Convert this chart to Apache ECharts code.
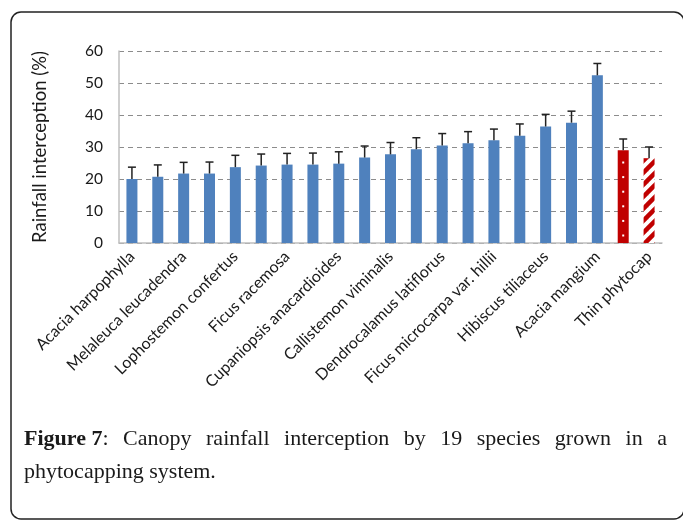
<!DOCTYPE html>
<html><head><meta charset="utf-8">
<script src="https://cdn.jsdelivr.net/npm/echarts@6/dist/echarts.min.js"></script>
<style>html,body{margin:0;padding:0;background:#fff}#c{width:683px;height:520px}</style>
</head><body><div id="c"></div>
<script>
var categories = ["Acacia harpophylla","Eucalyptus tereticornis","Melaleuca leucadendra","Casuarina cunninghamiana","Lophostemon confertus","Corymbia citriodora","Ficus racemosa","Eucalyptus camaldulensis","Cupaniopsis anacardioides","Melaleuca quinquenervia","Callistemon viminalis","Acacia salicina","Dendrocalamus latiflorus","Eucalyptus crebra","Ficus microcarpa var. hillii","Casuarina glauca","Hibiscus tiliaceus","Eucalyptus populnea","Acacia mangium","Thick phytocap","Thin phytocap"];
var interception = [20.0,20.7,21.7,21.7,23.7,24.2,24.5,24.5,24.8,26.7,27.7,29.3,30.5,31.2,32.1,33.5,36.4,37.6,52.4,29.0,26.5];
var errors = [3.7,3.7,3.5,3.6,3.7,3.6,3.5,3.6,3.7,3.6,3.7,3.6,3.7,3.6,3.5,3.7,3.8,3.6,3.7,3.5,3.5];
var yTicks = [0,10,20,30,40,50,60];
var captionBold = "Figure 7";
var captionLine1 = ": Canopy rainfall interception by 19 species grown in a";
var captionLine2 = "phytocapping system.";

var BLUE = '#4F81BD', RED = '#C00000';
var THICK = 19, THIN = 20;

// hatch pattern
var pc = document.createElement('canvas');
var S = 12; pc.width = S; pc.height = S;
var px = pc.getContext('2d');
px.fillStyle = '#fff'; px.fillRect(0,0,S,S);
px.strokeStyle = RED; px.lineWidth = 4.5;
[[0,S,S,0],[-S/2,S/2,S/2,-S/2],[S/2,1.5*S,1.5*S,S/2]].forEach(function(l){px.beginPath();px.moveTo(l[0],l[1]);px.lineTo(l[2],l[3]);px.stroke();});

var barData = interception.map(function(v,i){
  if (i === THICK) return {value:v, itemStyle:{color:RED}};
  if (i === THIN) return {value:v, itemStyle:{color:{image:pc, repeat:'repeat'}}};
  return {value:v, itemStyle:{color:BLUE}};
});
var errData = interception.map(function(v,i){return [i, v, errors[i]];});

// caption justification
var serif = '"Liberation Serif", "DejaVu Serif", serif';
var capSize = 22;
var mc = document.createElement('canvas').getContext('2d');
function w(t, bold){ mc.font = (bold?'bold ':'') + capSize + 'px ' + serif; return mc.measureText(t).width; }
var left = 24, right = 667, top1 = 428.5, top2 = 461.5;
var words = captionLine1.trim().split(' ');
var tokens = [{t: captionBold + words[0], first:true}];
for (var i=1;i<words.length;i++) tokens.push({t:words[i]});
var widths = tokens.map(function(tk){ return tk.first ? (w(captionBold,true)+w(words[0],false)) : w(tk.t,false); });
var total = widths.reduce(function(a,b){return a+b;},0);
var gap = (right-left-total)/(tokens.length-1);
var graphics = [];
var cx = left;
tokens.forEach(function(tk,i){
  if (tk.first) {
    graphics.push({type:'text', left:cx, top:top1, style:{text:captionBold, font:'bold '+capSize+'px '+serif, fill:'#1a1a1a'}});
    graphics.push({type:'text', left:cx+w(captionBold,true), top:top1, style:{text:words[0], font:capSize+'px '+serif, fill:'#1a1a1a'}});
  } else {
    graphics.push({type:'text', left:cx, top:top1, style:{text:tk.t, font:capSize+'px '+serif, fill:'#1a1a1a'}});
  }
  cx += widths[i] + gap;
});
graphics.push({type:'text', left:left, top:top2, style:{text:captionLine2, font:capSize+'px '+serif, fill:'#1a1a1a'}});
graphics.push({type:'rect', shape:{x:11, y:12, width:673, height:507, r:10}, style:{fill:'none', stroke:'#222', lineWidth:1.5}, z:-1});

var chart = echarts.init(document.getElementById('c'), null, {renderer:'canvas'});
var sans = 'Lato, "Open Sans", sans-serif';
chart.setOption({
  animation:false,
  graphic: graphics,
  grid:{left:119, right:21, top:51, bottom:277, containLabel:false},
  xAxis:{type:'category', data:categories,
    axisLine:{lineStyle:{color:'#bfbfbf', width:1.5}}, axisTick:{show:false},
    axisLabel:{interval:1, rotate:45, fontFamily:sans, fontSize:16, color:'#1a1a1a', margin:11}},
  yAxis:{type:'value', min:yTicks[0], max:yTicks[yTicks.length-1], interval:10,
    name:'Rainfall interception (%)', nameLocation:'middle', nameGap:69, nameRotate:90,
    nameTextStyle:{fontFamily:sans, fontSize:18.5, color:'#1a1a1a'},
    axisLine:{show:true, lineStyle:{color:'#bfbfbf', width:1.5}}, axisTick:{show:false},
    axisLabel:{fontFamily:sans, fontSize:15.5, color:'#1a1a1a', margin:16},
    splitLine:{lineStyle:{color:'#8c8c8c', type:[5,4], width:1}}},
  series:[
    {type:'bar', data:barData, barWidth:11},
    {type:'custom', data:errData, z:5, renderItem:function(params, api){
      var i = api.value(0), v = api.value(1), e = api.value(2);
      var b = api.coord([i, v]), t = api.coord([i, v+e]);
      return {type:'group', children:[
        {type:'line', shape:{x1:b[0], y1:b[1], x2:t[0], y2:t[1]}, style:{stroke:'#222', lineWidth:1.5}},
        {type:'line', shape:{x1:t[0]-4, y1:t[1], x2:t[0]+4, y2:t[1]}, style:{stroke:'#222', lineWidth:1.5}}
      ]};
    }},
    {type:'custom', data:[[THICK, interception[THICK]]], z:6, renderItem:function(params, api){
      var i = api.value(0), v = api.value(1);
      var b = api.coord([i, 0]), t = api.coord([i, v]);
      var ch = [];
      for (var y = b[1]-7.5; y > t[1]+6; y -= 14.6) {
        ch.push({type:'rect', shape:{x:b[0]-1, y:y-1, width:2, height:2}, style:{fill:'#fff'}});
      }
      return {type:'group', children:ch};
    }}
  ]
});
</script></body></html>
